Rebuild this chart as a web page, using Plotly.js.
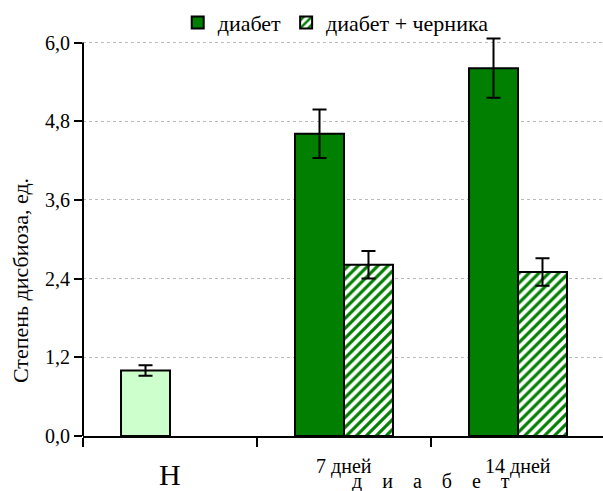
<!DOCTYPE html>
<html><head><meta charset="utf-8">
<script src="https://cdn.plot.ly/plotly-3.0.1.min.js"></script>
<style>html,body{margin:0;padding:0;background:#fff}</style>
</head><body>
<div id="chart" style="width:603px;height:491px"></div>
<script>
// Data
const catPositions = [0, 1, 2];
const normX = [0];
const normY = [1.0];
const normErr = [0.08];
const diabX = [1, 2];
const diabY = [4.61, 5.61];
const diabErr = [0.37, 0.45];
const blueX = [1, 2];
const blueY = [2.61, 2.50];
const blueErr = [0.21, 0.21];
const yTickVals = [0, 1.2, 2.4, 3.6, 4.8, 6.0];
const yTickText = ['0,0', '1,2', '2,4', '3,6', '4,8', '6,0'];
const catLabels = ['Н', '7 дней', '14 дней'];
const groupLabel = 'д\u2003и\u2003а\u2003б\u2003е\u2003т';
const seriesNames = ['диабет', 'диабет + черника'];
const yTitle = 'Степень дисбиоза, ед.';

const FONT = 'Liberation Serif';
const errStyle = {type: 'data', visible: true, color: '#000', thickness: 2, width: 7};

const traces = [
  {type: 'bar', x: normX, y: normY, offsetgroup: 'a', showlegend: false, cliponaxis: false,
   marker: {color: '#ccffcc', line: {color: '#000', width: 2}},
   error_y: Object.assign({array: normErr}, errStyle), hoverinfo: 'skip'},
  {type: 'bar', x: diabX, y: diabY, offsetgroup: 'a', name: seriesNames[0], cliponaxis: false,
   marker: {color: '#007f00', line: {color: '#000', width: 2}},
   error_y: Object.assign({array: diabErr}, errStyle)},
  {type: 'bar', x: blueX, y: blueY, offsetgroup: 'b', name: seriesNames[1], cliponaxis: false,
   marker: {color: '#ffffff', line: {color: '#000', width: 2},
            pattern: {shape: '/', fgcolor: '#007f00', bgcolor: '#ffffff', size: 7, solidity: 0.45}},
   error_y: Object.assign({array: blueErr}, errStyle)}
];

const annotations = [
  {x: catPositions[0], y: 0, xref: 'x', yref: 'paper', text: catLabels[0], showarrow: false,
   yanchor: 'middle', yshift: -38, font: {family: FONT, size: 30, color: '#000'}},
  {x: catPositions[1], y: 0, xref: 'x', yref: 'paper', text: catLabels[1], showarrow: false,
   yanchor: 'middle', yshift: -30, font: {family: FONT, size: 20, color: '#000'}},
  {x: catPositions[2], y: 0, xref: 'x', yref: 'paper', text: catLabels[2], showarrow: false,
   yanchor: 'middle', yshift: -30, font: {family: FONT, size: 20, color: '#000'}},
  {x: (catPositions[1] + catPositions[2]) / 2, y: 0, xref: 'x', yref: 'paper', text: groupLabel, showarrow: false,
   yanchor: 'middle', yshift: -45, font: {family: FONT, size: 20, color: '#000'}},
  {x: -0.121, y: 0.3875, xref: 'paper', yref: 'paper', text: yTitle, showarrow: false, textangle: -90,
   xanchor: 'center', yanchor: 'middle', font: {family: FONT, size: 22, color: '#000'}}
];

// y axis line drawn only over the value range 0..6 (plot area extends slightly higher for error caps)
const shapes = [
  {type: 'line', xref: 'paper', yref: 'y', x0: 0, x1: 0, y0: 0, y1: yTickVals[yTickVals.length - 1],
   line: {color: '#000', width: 2}}
];

const layout = {
  width: 603, height: 491,
  margin: {l: 83, r: 0, t: 36, b: 55},
  paper_bgcolor: '#fff', plot_bgcolor: '#fff',
  font: {family: FONT, size: 20, color: '#000'},
  barmode: 'group', bargap: 0.437, bargroupgap: 0,
  showlegend: true,
  legend: {orientation: 'h', x: 0.486, xanchor: 'center', y: 1.086, yanchor: 'top',
           font: {family: FONT, size: 22, color: '#000'}, itemwidth: 30, tracegroupgap: 0,
           bgcolor: 'rgba(0,0,0,0)'},
  xaxis: {range: [-0.5, 2.4885], tickmode: 'array', tickvals: [-0.5, 0.5, 1.5], ticktext: ['', '', ''],
          ticks: 'outside', ticklen: 9, tickwidth: 2, tickcolor: '#000',
          showline: true, linecolor: '#000', linewidth: 2, showgrid: false, zeroline: false, fixedrange: true},
  yaxis: {range: [0, 6.1], tickmode: 'array', tickvals: yTickVals, ticktext: yTickText,
          ticks: 'outside', ticklen: 8, tickwidth: 2, tickcolor: '#000',
          showline: false,
          showgrid: true, gridcolor: '#bbbbbb', griddash: 'dot', gridwidth: 1, zeroline: false,
          tickfont: {family: FONT, size: 20, color: '#000'},
          fixedrange: true},
  shapes: shapes,
  annotations: annotations
};

Plotly.newPlot('chart', traces, layout, {displayModeBar: false, staticPlot: true});
</script>
</body></html>
